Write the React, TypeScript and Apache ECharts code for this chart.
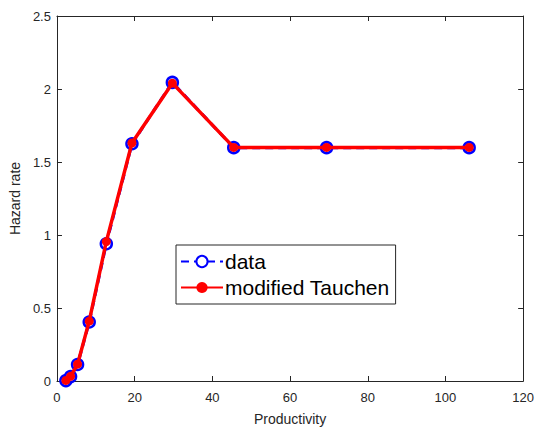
import React, { useEffect, useRef } from "react";
import * as echarts from "echarts";

const productivity = [2.3, 3.5, 5.3, 8.3, 12.7, 19.3, 29.7, 45.5, 69.4, 106.1];
const hazardData = [0.003, 0.03, 0.113, 0.404, 0.94, 1.625, 2.045, 1.598, 1.598, 1.598];
const hazardModel = [0.004, 0.032, 0.115, 0.41, 0.955, 1.63, 2.04, 1.6, 1.6, 1.6];
const xTicks = [0, 20, 40, 60, 80, 100, 120];
const yTicks = [0, 0.5, 1, 1.5, 2, 2.5];
const seriesNames = ["data", "modified Tauchen"];

const AXIS = "#262626";
const FONT = "Liberation Sans, Arial, Helvetica, sans-serif";

export default function App() {
  const ref = useRef<HTMLDivElement>(null);
  useEffect(() => {
    if (!ref.current) return;
    const chart = echarts.init(ref.current, undefined, { renderer: "svg", width: 537, height: 431 });
    const xMin = xTicks[0];
    const xMax = xTicks[xTicks.length - 1];
    const yMin = yTicks[0];
    const yMax = yTicks[yTicks.length - 1];
    const common = {
      axisLine: { show: true, onZero: false, lineStyle: { color: AXIS, width: 1 } },
      axisTick: { show: true, inside: true, length: 5, lineStyle: { color: AXIS } },
      splitLine: { show: false },
    };
    chart.setOption({
      animation: false,
      textStyle: { fontFamily: FONT },
      grid: { left: 55, top: 16, right: 13.5, bottom: 45.3, containLabel: false },
      xAxis: [
        {
          type: "value",
          min: xMin,
          max: xMax,
          interval: 20,
          position: "bottom",
          ...common,
          axisLabel: { color: AXIS, fontSize: 13, margin: 10, fontFamily: FONT },
          name: "Productivity",
          nameLocation: "middle",
          nameGap: 31,
          nameTextStyle: { color: AXIS, fontSize: 14, fontFamily: FONT },
        },
        {
          type: "value",
          min: xMin,
          max: xMax,
          interval: 20,
          position: "top",
          ...common,
          axisLabel: { show: false },
        },
      ],
      yAxis: [
        {
          type: "value",
          min: yMin,
          max: yMax,
          interval: 0.5,
          position: "left",
          ...common,
          axisLabel: { color: AXIS, fontSize: 13, margin: 6, fontFamily: FONT },
          name: "Hazard rate",
          nameLocation: "middle",
          nameGap: 32,
          nameTextStyle: { color: AXIS, fontSize: 14, fontFamily: FONT },
        },
        {
          type: "value",
          min: yMin,
          max: yMax,
          interval: 0.5,
          position: "right",
          ...common,
          axisLabel: { show: false },
        },
      ],
      legend: {
        show: true,
        orient: "vertical",
        left: 176,
        top: 245,
        width: 226,
        padding: [6, 6, 6, 4],
        itemGap: 5,
        itemWidth: 42,
        itemHeight: 14,
        borderColor: "#262626",
        borderWidth: 1,
        backgroundColor: "#ffffff",
        textStyle: { fontSize: 21, color: "#000", fontFamily: FONT, padding: [0, 0, 0, -3] },
        data: seriesNames,
      },
      series: [
        {
          name: seriesNames[0],
          type: "line",
          data: productivity.map((x, i) => [x, hazardData[i]]),
          lineStyle: { color: "#0000ff", width: 3, type: [8, 5] },
          symbol: "circle",
          symbolSize: 11,
          itemStyle: { color: "#ffffff", borderColor: "#0000ff", borderWidth: 2.5 },
          z: 2,
        },
        {
          name: seriesNames[1],
          type: "line",
          data: productivity.map((x, i) => [x, hazardModel[i]]),
          lineStyle: { color: "#ff0000", width: 3.5 },
          symbol: "circle",
          symbolSize: 9,
          itemStyle: { color: "#ff0000", borderColor: "#ff0000", borderWidth: 0 },
          z: 3,
        },
      ],
    });
    return () => chart.dispose();
  }, []);
  return <div ref={ref} style={{ width: 537, height: 431, position: "absolute", left: 0, top: 0, background: "#fff" }} />;
}
